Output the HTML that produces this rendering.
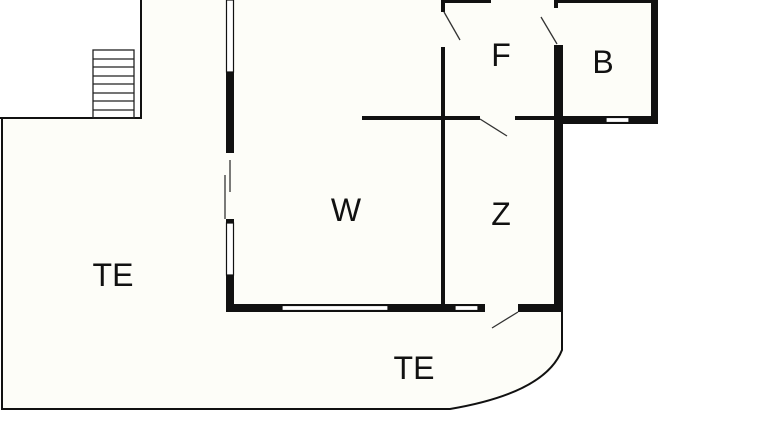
<!DOCTYPE html>
<html><head><meta charset="utf-8"><style>
html,body{margin:0;padding:0;background:#fff;}
svg{display:block}
text{font-family:"Liberation Sans",sans-serif;font-size:32px;fill:#111;text-anchor:middle;}
</style></head><body>
<svg width="768" height="432" viewBox="0 0 768 432" xmlns="http://www.w3.org/2000/svg">
<!-- floor fill -->
<path d="M2,118 L141,118 L141,0 L658,0 L658,122 L563,122 L563,355 Q540,395 450,409 L2,409 Z" fill="#fdfdf8"/>
<!-- terrace outline -->
<path d="M0,118 L141,118 L141,0" fill="none" stroke="#111" stroke-width="2"/>
<path d="M2,118 L2,409 L450,409 Q545,393 562,350 L562,312" fill="none" stroke="#111" stroke-width="2"/>
<!-- stairs -->
<g stroke="#222" stroke-width="1.3" fill="none">
<rect x="93" y="50" width="41" height="68"/>
<line x1="93" y1="59" x2="134" y2="59"/><line x1="93" y1="67" x2="134" y2="67"/>
<line x1="93" y1="76" x2="134" y2="76"/><line x1="93" y1="84" x2="134" y2="84"/>
<line x1="93" y1="93" x2="134" y2="93"/><line x1="93" y1="101" x2="134" y2="101"/>
<line x1="93" y1="110" x2="134" y2="110"/>
</g>
<!-- left wall of W -->
<g fill="#111">
<rect x="226" y="72" width="8" height="81"/>
<rect x="226" y="219" width="8" height="4"/>
<rect x="226" y="275" width="8" height="37"/>
<rect x="226" y="304" width="336" height="8"/>
<rect x="441" y="0" width="4" height="12"/>
<rect x="441" y="47" width="4" height="260"/>
<rect x="362" y="116" width="118" height="4"/>
<rect x="515" y="116" width="45" height="4"/>
<rect x="554" y="0" width="4" height="8"/>
<rect x="554" y="45" width="9" height="267"/>
<rect x="441" y="0" width="50" height="3"/>
<rect x="554" y="0" width="104" height="3"/>
<rect x="651" y="0" width="7" height="124"/>
<rect x="554" y="116" width="104" height="8"/>
</g>
<g fill="#fff" stroke="#111" stroke-width="1.2">
<rect x="226.5" y="0" width="7" height="72"/>
<rect x="226.5" y="223" width="7" height="52"/>
<rect x="282" y="305.5" width="106" height="5"/>
<rect x="455" y="305.5" width="23" height="5"/>
<rect x="606" y="117.5" width="23" height="5"/>
</g>
<!-- door gaps -->
<rect x="485" y="304" width="33" height="8" fill="#fdfdf8"/>
<g stroke="#333" stroke-width="1.3">
<line x1="230" y1="160" x2="230" y2="192"/>
<line x1="225" y1="175" x2="225" y2="219"/>
<line x1="518" y1="312" x2="492" y2="328"/>
<line x1="444" y1="12" x2="460" y2="40"/>
<line x1="557" y1="44" x2="541" y2="17"/>
<line x1="480" y1="119" x2="507" y2="136"/>
</g>
<text x="501" y="66">F</text>
<text x="603" y="73">B</text>
<text x="346" y="221">W</text>
<text x="501" y="225">Z</text>
<text x="113" y="286">TE</text>
<text x="414" y="379">TE</text>
</svg>
</body></html>
